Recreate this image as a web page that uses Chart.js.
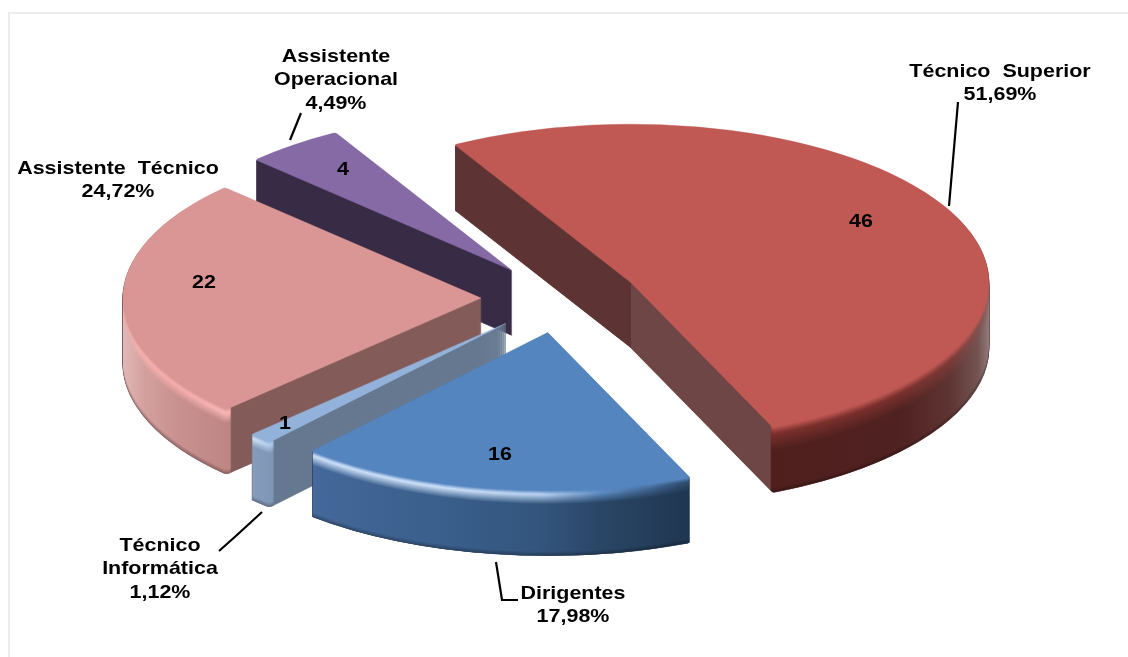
<!DOCTYPE html>
<html lang="pt">
<head>
<meta charset="utf-8">
<title>Pessoal por carreira</title>
<script src="https://cdn.jsdelivr.net/npm/chart.js@4"></script>
<style>
  html, body { margin: 0; padding: 0; background: #fff; }
  canvas { display: block; position: absolute; left: 0; top: 0; }
  #frame { position: absolute; left: 8px; top: 12px; right: 0; bottom: 0;
           border-left: 2px solid #ececec; border-top: 2px solid #ececec; }
</style>
</head>
<body>
<div id="frame"></div>
<canvas id="chart" width="1128" height="657"></canvas>
<script>
"use strict";

// Datos de la gráfica
const categories = ["Técnico  Superior", "Dirigentes", "Técnico Informática", "Assistente  Técnico", "Assistente Operacional"];
const counts = [46, 16, 1, 22, 4];
const percents = ["51,69%", "17,98%", "1,12%", "24,72%", "4,49%"];

// Colores: superficie, cara de corte (izq / der del vértice)
const topColors = ["#c05854", "#5585bf", "#93b2da", "#d99694", "#856aa5"];
const wallLeft = ["#5d3433", "#1f3550", "#65788f", "#835c5a", "#372b46"];
const wallRight = ["#6d4645", "#1f3550", "#65788f", "#835c5a", "#372b46"];

// Canto exterior: [x relativa al vértice / radio, brillo del bisel, color del canto]
const rimStops = [
  [[0.38, "#7a2f2b", "#4f1f1d"], [0.75, "#7a302c", "#4f2120"], [0.89, "#7c3a37", "#5e3432"], [0.97, "#80504e", "#735452"], [1, "#8a6462", "#8f7b7a"]],
  [[-0.66, "#cfe2fa", "#44699a"], [-0.3, "#cfe2fa", "#3a5f8c"], [-0.02, "#bcd4f2", "#33557d"], [0.15, "#5d8cc4", "#2a4666"], [0.41, "#2b4768", "#1f3550"]],
  [[-0.72, "#dbe8fa", "#879dbd"], [-0.64, "#a9c4e6", "#7f95b4"]],
  [[-1, "#e8aeac", "#e0b8b6"], [-0.94, "#f7b0ae", "#d4a09e"], [-0.85, "#f7acaa", "#c99190"], [-0.7, "#f9b8b6", "#bd8583"]],
  [[-0.7, "#856aa5", "#372b46"], [-0.5, "#856aa5", "#372b46"]]
];
const bevelDepth = [24, 14, 12, 15, 12];

// Orden de pintado (de atrás hacia adelante)
const drawOrder = [4, 0, 3, 2, 1];

// Textos exteriores y sus guías
const nameLines = [
  ["Técnico  Superior"],
  ["Dirigentes"],
  ["Técnico", "Informática"],
  ["Assistente  Técnico"],
  ["Assistente", "Operacional"]
];
const nameAnchors = [[1000, 70], [573, 592], [160, 544], [118, 167], [336, 55]];
const valueAnchors = [[861, 220], [500, 453], [285, 422], [204, 281], [343, 168]];
const leaders = [
  [[958, 102], [949, 206]],
  [[496, 562], [502, 600], [518, 600]],
  [[262, 512], [237, 535], [219, 551]],
  [],
  [[301, 113], [290, 140]]
];

const SQUASH = 0.442;
const EXPLODE = 79;
const DEPTH = 65;
const CORNER = 3;
const RIM_BAND = 7;
const TEXT_STRETCH = 1.13;
const FONT = 'bold 19px "Liberation Sans", Arial, sans-serif';

function hexRgb(hex) {
  return [1, 3, 5].map((i) => parseInt(hex.slice(i, i + 2), 16));
}

function mixHex(a, b, t) {
  const ca = hexRgb(a);
  const cb = hexRgb(b);
  return "#" + ca.map((v, i) => Math.round(v + (cb[i] - v) * t).toString(16).padStart(2, "0")).join("");
}

// Color del canto según la fila d (bisel arriba, oscurecido abajo)
function rimColor(top, hi, rim, d, bevel) {
  const hiAt = bevel * 0.3;
  if (d <= hiAt) return mixHex(top, hi, d / hiAt);
  if (d <= bevel) return mixHex(hi, rim, (d - hiAt) / (bevel - hiAt));
  if (d >= DEPTH - 4) return mixHex(rim, "#000000", 0.25 * (d - DEPTH + 4) / 4);
  return rim;
}

// Pinta el arco con sus propias opciones cambiadas un momento
function paintArc(ctx, arc, style, props) {
  const saved = { options: arc.options, innerRadius: arc.innerRadius, startAngle: arc.startAngle, endAngle: arc.endAngle, circumference: arc.circumference };
  arc.options = Object.assign({}, saved.options, style);
  if (props) Object.assign(arc, props);
  arc.draw(ctx);
  Object.assign(arc, saved);
}

function sliceTransform(ctx, arc, d) {
  const mid = (arc.startAngle + arc.endAngle) / 2;
  ctx.translate(0, d);
  ctx.translate(arc.x, arc.y);
  ctx.scale(1, SQUASH);
  ctx.translate(-arc.x, -arc.y);
  ctx.translate(Math.cos(mid) * EXPLODE, Math.sin(mid) * EXPLODE);
}

function drawSlice(ctx, arc, i) {
  const r = arc.outerRadius;

  // Caras de corte
  const wall = ctx.createLinearGradient(arc.x - 1, 0, arc.x + 1, 0);
  wall.addColorStop(0, wallLeft[i]);
  wall.addColorStop(0.5, wallLeft[i]);
  wall.addColorStop(0.5, wallRight[i]);
  wall.addColorStop(1, wallRight[i]);
  for (let d = DEPTH; d >= 1; d--) {
    ctx.save();
    sliceTransform(ctx, arc, d);
    paintArc(ctx, arc, { backgroundColor: wall, borderColor: wall, borderWidth: 1.2 });
    ctx.restore();
  }

  // Canto exterior: solo la parte que mira al frente
  const start = Math.max(arc.startAngle, 0);
  const end = Math.min(arc.endAngle, Math.PI);
  if (end > start) {
    const round = {
      outerStart: start === arc.startAngle ? CORNER : 0,
      outerEnd: end === arc.endAngle ? CORNER : 0,
      innerStart: 0,
      innerEnd: 0
    };
    for (let d = DEPTH; d >= 1; d--) {
      ctx.save();
      sliceTransform(ctx, arc, d);
      const grad = ctx.createLinearGradient(arc.x - r, 0, arc.x + r, 0);
      rimStops[i].forEach((s) => {
        grad.addColorStop((s[0] + 1) / 2, rimColor(topColors[i], s[1], s[2], d, bevelDepth[i]));
      });
      paintArc(ctx, arc, { backgroundColor: grad, borderWidth: 0, borderRadius: round }, {
        innerRadius: r - RIM_BAND,
        startAngle: start,
        endAngle: end,
        circumference: end - start
      });
      ctx.restore();
    }
  }

  // Superficie
  ctx.save();
  sliceTransform(ctx, arc, 0);
  paintArc(ctx, arc, { backgroundColor: topColors[i], borderColor: topColors[i], borderWidth: 0.6 });
  ctx.restore();
}

function stretchedText(ctx, text, x, y) {
  ctx.save();
  ctx.translate(x, y + 1.5);
  ctx.scale(TEXT_STRETCH, 1);
  ctx.fillText(text, 0, 0);
  ctx.restore();
}

const pie3d = {
  id: "pie3d",
  beforeDatasetsDraw(chart) {
    const arcs = chart.getDatasetMeta(0).data;
    drawOrder.forEach((i) => drawSlice(chart.ctx, arcs[i], i));
    return false;
  },
  afterDraw(chart) {
    const ctx = chart.ctx;
    ctx.save();
    ctx.fillStyle = "#000";
    ctx.strokeStyle = "#000";
    ctx.lineWidth = 2.2;
    ctx.font = FONT;
    ctx.textAlign = "center";
    ctx.textBaseline = "middle";

    categories.forEach((c, i) => {
      const lines = nameLines[i].concat(percents[i]);
      lines.forEach((t, n) => stretchedText(ctx, t, nameAnchors[i][0], nameAnchors[i][1] + n * 23.5));
      stretchedText(ctx, String(counts[i]), valueAnchors[i][0], valueAnchors[i][1]);

      if (leaders[i].length) {
        ctx.beginPath();
        leaders[i].forEach((p, n) => (n ? ctx.lineTo(p[0], p[1]) : ctx.moveTo(p[0], p[1])));
        ctx.stroke();
      }
    });
    ctx.restore();
  }
};

new Chart(document.getElementById("chart"), {
  type: "pie",
  data: {
    labels: categories,
    datasets: [{
      data: counts,
      backgroundColor: topColors,
      borderWidth: 0,
      borderRadius: { outerStart: CORNER, outerEnd: CORNER, innerStart: 0, innerEnd: 0 },
      radius: 358
    }]
  },
  options: {
    responsive: false,
    animation: false,
    rotation: -29.5,
    layout: { padding: { right: 8, bottom: 61 } },
    plugins: { legend: { display: false }, tooltip: { enabled: false } }
  },
  plugins: [pie3d]
});
</script>
</body>
</html>
